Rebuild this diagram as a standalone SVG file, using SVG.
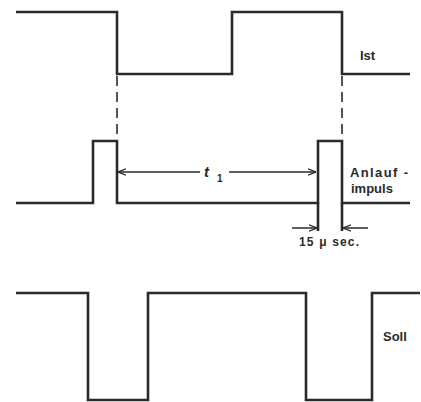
<svg xmlns="http://www.w3.org/2000/svg" width="421" height="402" viewBox="0 0 421 402">
<style>
.w{fill:none;stroke:#2a2a2a;stroke-width:2.6;stroke-linejoin:miter}
.d{fill:none;stroke:#2a2a2a;stroke-width:1.6;stroke-dasharray:10,6}
.a{fill:none;stroke:#2a2a2a;stroke-width:1.5}
.t{font-family:"Liberation Sans",Arial,sans-serif;font-weight:bold;fill:#2a2a2a}
</style>
<defs>
<marker id="ah" viewBox="0 0 10 10" refX="10" refY="5" markerWidth="8" markerHeight="8" markerUnits="userSpaceOnUse" orient="auto-start-reverse">
<path d="M0,1 L10,5 L0,9" fill="none" stroke="#2a2a2a" stroke-width="1.6"/>
</marker>
</defs>
<g id="ist">
<path class="w" d="M16,12 H117 V74 H232 V12 H342 V74 H410"/>
<text class="t" x="360" y="60" font-size="13">Ist</text>
</g>
<g id="anlaufimpuls">
<path class="w" d="M16,203 H93 V141 H117 V203 H318 V141 H342 V203 H410"/>
<path class="w" d="M318,203 V231 M342,203 V231"/>
<text class="t" x="350" y="177" font-size="13" textLength="58">Anlauf -</text>
<text class="t" x="351" y="193" font-size="13">impuls</text>
</g>
<g id="soll">
<path class="w" d="M16,293 H88 V400 H148 V293 H306 V400 H372 V293 H420"/>
<text class="t" x="383" y="341" font-size="13">Soll</text>
</g>
<g id="connectors">
<path class="d" d="M117,76 V140"/>
<path class="d" d="M342,76 V140"/>
<path class="a" d="M200,172 H118" marker-end="url(#ah)"/>
<path class="a" d="M229,172 H316" marker-end="url(#ah)"/>
<path class="a" d="M292,228 H317" marker-end="url(#ah)"/>
<path class="a" d="M368,228 H343" marker-end="url(#ah)"/>
<text class="t" x="204" y="177" font-size="15" font-style="italic">t</text>
<text class="t" x="217" y="182" font-size="10">1</text>
<text class="t" x="299" y="246" font-size="12" textLength="60">15 μ sec.</text>
</g>
</svg>
